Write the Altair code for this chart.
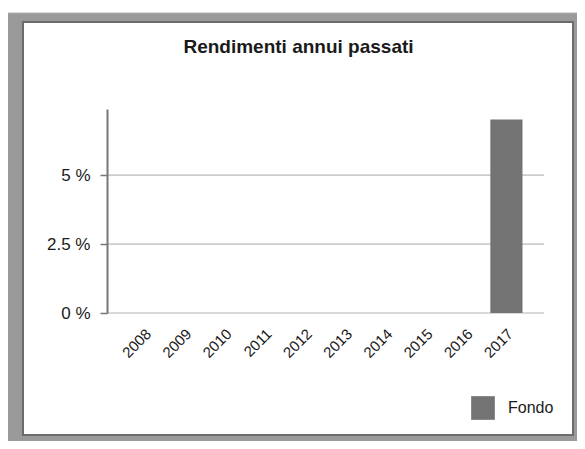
import altair as alt
import pandas as pd

# ---- data ----
years = ["2008", "2009", "2010", "2011", "2012", "2013", "2014", "2015", "2016", "2017"]
fondo = [None, None, None, None, None, None, None, None, None, 7.02]
series_name = "Fondo"
y_ticks = [0, 2.5, 5]
title_text = "Rendimenti annui passati"

df = pd.DataFrame({"anno": years, "rendimento": fondo, "serie": series_name})
grid_df = pd.DataFrame({"v": y_ticks})

FONT = "Liberation Sans"

y_scale = alt.Scale(domain=[0, 7.4], nice=False, zero=True)
y_axis = alt.Axis(
    title=None, values=y_ticks, labelExpr="datum.value + ' %'",
    grid=False, domain=True, domainColor="#777777", domainWidth=2,
    ticks=True, tickSize=7, tickColor="#777777", tickWidth=1.5,
    labelPadding=10, labelFontSize=17, labelColor="#1a1a1a", labelFont=FONT,
    zindex=1,
)

# decorative frame (outer grey border + inner white panel)
outer = alt.Chart(alt.Data(values=[{"k": 1}])).mark_rect(
    fill="#9a9a9a", stroke="#b0b0b0", strokeWidth=1
).encode(x=alt.value(-100), x2=alt.value(480), y=alt.value(-96), y2=alt.value(342))

inner = alt.Chart(alt.Data(values=[{"k": 1}])).mark_rect(
    fill="white", stroke="#6b6b6b", strokeWidth=2
).encode(x=alt.value(-84), x2=alt.value(466), y=alt.value(-87), y2=alt.value(326))

grid = alt.Chart(grid_df).mark_rule(color="#cccccc", strokeWidth=1.6).encode(
    y=alt.Y("v:Q", scale=y_scale, axis=y_axis),
    x=alt.value(0),
    x2=alt.value("width"),
)

bars = alt.Chart(df).mark_bar(color="#737373").encode(
    x=alt.X(
        "anno:N",
        scale=alt.Scale(domain=years, paddingInner=0.2, paddingOuter=0.535),
        axis=alt.Axis(
            title=None, labelAngle=-45, labelAlign="right", labelBaseline="middle",
            ticks=False, domain=False, grid=False, labelPadding=18, labelOffset=4,
            labelFontSize=15, labelColor="#1a1a1a", labelFont=FONT, zindex=1,
        ),
    ),
    y=alt.Y("rendimento:Q", scale=y_scale, axis=y_axis),
    color=alt.Color(
        "serie:N",
        scale=alt.Scale(domain=[series_name], range=["#737373"]),
        legend=alt.Legend(
            title=None, orient="none", legendX=364, legendY=287,
            symbolType="square", symbolSize=560, symbolStrokeWidth=0,
            symbolOpacity=1, labelFontSize=16, labelFont=FONT,
            labelColor="#1a1a1a", labelOffset=13, padding=0,
        ),
    ),
)

chart = alt.layer(outer, inner, grid, bars).properties(
    width=437,
    height=204,
    padding={"left": 99, "top": 101, "right": 33, "bottom": 128},
    autosize=alt.AutoSizeParams(type="none"),
    title=alt.TitleParams(
        title_text, font=FONT, fontSize=19, fontWeight="bold", color="#1a1a1a",
        anchor="middle", frame="group", baseline="alphabetic", offset=0,
        dx=-27, dy=59,
    ),
).configure_view(stroke=None)

chart.save("out.html", embed_options={"renderer": "svg", "actions": False})
